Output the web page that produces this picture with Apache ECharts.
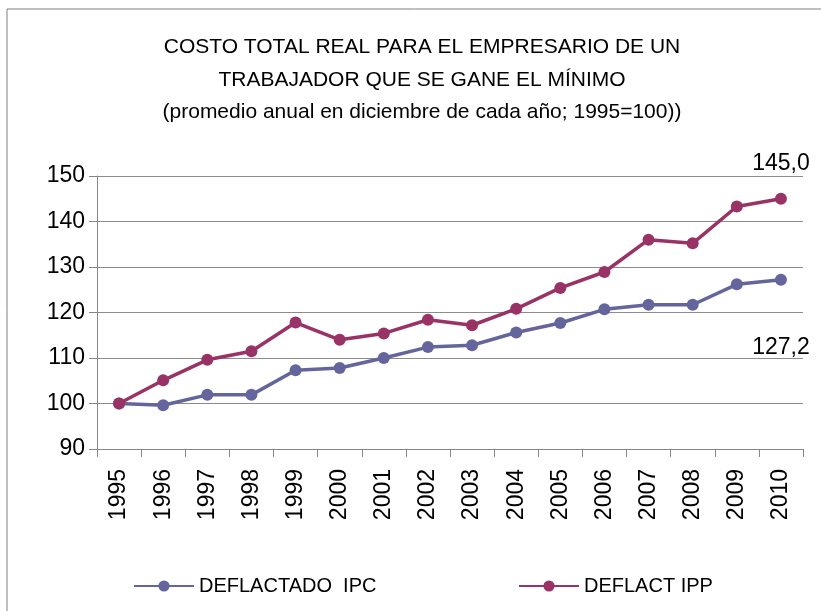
<!DOCTYPE html>
<html>
<head>
<meta charset="utf-8">
<script src="https://cdn.jsdelivr.net/npm/echarts@6/dist/echarts.min.js"></script>
<style>
  html, body { margin: 0; padding: 0; background: #fff; }
  #box { width: 821px; height: 611px; }
</style>
</head>
<body>
<div id="box"></div>
<script>
var years = ['1995', '1996', '1997', '1998', '1999', '2000', '2001', '2002',
             '2003', '2004', '2005', '2006', '2007', '2008', '2009', '2010'];
var ipc = [100, 99.6, 101.9, 101.9, 107.3, 107.8, 110.0, 112.4,
           112.8, 115.6, 117.7, 120.7, 121.7, 121.7, 126.2, 127.2];
var ipp = [100, 105.1, 109.6, 111.5, 117.8, 114.0, 115.4, 118.4,
           117.2, 120.8, 125.4, 128.9, 136.0, 135.2, 143.3, 145.0];
var yTicks = [90, 100, 110, 120, 130, 140, 150];

var chartDom = document.getElementById('box');
var myChart = echarts.init(chartDom);
var font = 'Liberation Sans, Arial, sans-serif';
const colors = ['#65659D', '#993366'];

// label only on the last point
function lastLabel(arr, pos, dist) {
  return arr.map(function (v, i) {
    if (i < arr.length - 1) return v;
    return {
      value: v,
      label: {
        show: true, position: pos, distance: dist,
        fontFamily: font, fontSize: 23, color: '#000',
        formatter: function (p) { return p.value.toFixed(1).replace('.', ','); }
      }
    };
  });
}

var option = {
  color: colors,
  animation: false,
  graphic: [{
    type: 'rect',
    shape: { x: 7, y: 9, width: 900, height: 900 },
    style: { fill: 'none', stroke: '#7f7f7f', lineWidth: 1 }
  }],
  title: {
    text: 'COSTO TOTAL REAL PARA EL EMPRESARIO DE UN\nTRABAJADOR QUE SE GANE EL MÍNIMO\n(promedio anual en diciembre de cada año; 1995=100))',
    left: 417,
    textAlign: 'center',
    top: 26,
    textStyle: {
      fontFamily: font, fontSize: 21, fontWeight: 'normal',
      color: '#000', lineHeight: 32.5
    }
  },
  legend: [{
    data: ['DEFLACTADO  IPC'],
    left: 128, top: 571,
    itemWidth: 60, itemHeight: 14,
    textStyle: { fontFamily: font, fontSize: 20, color: '#000' }
  }, {
    data: ['DEFLACT IPP'],
    left: 513, top: 571,
    itemWidth: 60, itemHeight: 14,
    textStyle: { fontFamily: font, fontSize: 20, color: '#000' }
  }],
  grid: { left: 97, right: 18, top: 176, bottom: 162 },
  xAxis: {
    type: 'category',
    data: years,
    boundaryGap: true,
    axisLine: { lineStyle: { color: '#868686' } },
    axisTick: { show: true, length: 8, lineStyle: { color: '#868686' } },
    axisLabel: {
      rotate: 90, margin: 20, interval: 0,
      fontFamily: font, fontSize: 23, color: '#000'
    }
  },
  yAxis: {
    type: 'value',
    min: yTicks[0], max: yTicks[yTicks.length - 1], interval: 10,
    axisLine: { show: true, lineStyle: { color: '#868686' } },
    axisTick: { show: true, length: 8, lineStyle: { color: '#868686' } },
    axisLabel: { margin: 12, fontFamily: font, fontSize: 23, color: '#000' },
    splitLine: { lineStyle: { color: '#8c8c8c', width: 1 } }
  },
  series: [
    {
      name: 'DEFLACTADO  IPC',
      type: 'line',
      symbol: 'circle', symbolSize: 12,
      lineStyle: { width: 3.5 },
      data: lastLabel(ipc, 'bottom', 50)
    },
    {
      name: 'DEFLACT IPP',
      type: 'line',
      symbol: 'circle', symbolSize: 12,
      lineStyle: { width: 3.5 },
      data: lastLabel(ipp, 'top', 18)
    }
  ]
};
option && myChart.setOption(option);
</script>
</body>
</html>
